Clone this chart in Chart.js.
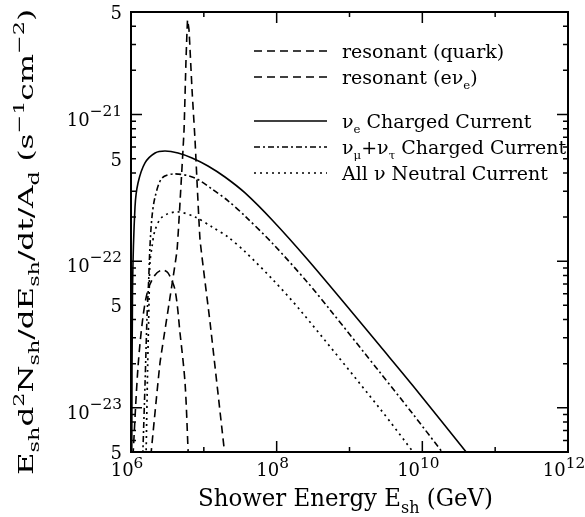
<!DOCTYPE html>
<html>
<head>
<meta charset="utf-8">
<script src="https://cdn.jsdelivr.net/npm/chart.js@4.4.1/dist/chart.umd.min.js"></script>
<style>
  html, body { margin: 0; padding: 0; background: #fff; }
</style>
</head>
<body>
<canvas id="showerChart" width="585" height="517"></canvas>
<script>
// shower energy (GeV) and rate E dN/dE (s^-1 cm^-2)
const ccElecE    = [1.025e6, 1.049e6, 1.135e6, 1.248e6, 1.557e6, 2.14e6, 2.93e6, 4.42e6, 6.89e6, 1.14e7, 1.95e7, 3.68e7, 8.93e7, 2.62e8, 1.02e9, 2.63e9, 7.48e9, 4.54e10];
const ccElecRate = [4.8e-24, 6.37e-23, 2.34e-22, 3.41e-22, 4.68e-22, 5.47e-22, 5.64e-22, 5.47e-22, 5.06e-22, 4.46e-22, 3.75e-22, 2.92e-22, 1.88e-22, 1.035e-22, 4.65e-23, 2.64e-23, 1.41e-23, 4.62e-24];

const ccMuTauE    = [1.45e6, 1.56e6, 1.66e6, 1.75e6, 1.82e6, 1.94e6, 2.14e6, 2.67e6, 4.02e6, 7.57e6, 1.30e7, 2.15e7, 3.68e7, 8.93e7, 2.62e8, 5.42e8, 2.63e9, 7.48e9, 2.06e10];
const ccMuTauRate = [4.7e-24, 1.48e-23, 4.17e-23, 7.5e-23, 1.25e-22, 2.00e-22, 2.74e-22, 3.69e-22, 3.94e-22, 3.69e-22, 3.10e-22, 2.58e-22, 2.03e-22, 1.31e-22, 7.22e-23, 4.65e-23, 1.74e-23, 9.03e-24, 4.7e-24];

const ncAllE    = [1.61e6, 1.69e6, 1.77e6, 1.82e6, 1.94e6, 2.14e6, 2.67e6, 4.29e6, 7.57e6, 1.30e7, 2.15e7, 3.68e7, 8.93e7, 2.09e8, 2.63e9, 8.22e9];
const ncAllRate = [4.7e-24, 1.82e-23, 5.44e-23, 9.73e-23, 1.25e-22, 1.63e-22, 2.00e-22, 2.17e-22, 2.00e-22, 1.71e-22, 1.46e-22, 1.16e-22, 7.45e-23, 4.65e-23, 9.84e-24, 4.7e-24];

const quarkE    = [1.065e6, 1.248e6, 1.46e6, 1.71e6, 2.14e6, 2.67e6, 3.22e6, 4.02e6, 4.71e6, 5.52e6, 6.12e6];
const quarkRate = [4.7e-24, 1.90e-23, 4.17e-23, 6.37e-23, 8.05e-23, 8.71e-23, 8.32e-23, 6.37e-23, 3.24e-23, 1.48e-23, 4.7e-24];

const glashowE    = [1.87e6, 2.50e6, 3.44e6, 4.29e6, 4.86e6, 5.35e6, 5.69e6, 5.97e6, 6.26e6, 6.89e6, 7.57e6, 8.87e6, 1.22e7, 1.95e7];
const glashowRate = [4.7e-24, 2.02e-23, 5.70e-23, 1.19e-22, 3.31e-22, 7.85e-22, 2.35e-21, 4.41e-21, 3.77e-21, 1.47e-21, 6.70e-22, 1.40e-22, 3.79e-23, 4.7e-24];

// axis ticks
const xMajorTicks = [1e6, 1e8, 1e10, 1e12];
const xMinorTicks = [1e7, 1e9, 1e11];
const xTickExp    = ['6', '8', '10', '12'];
const yDecades    = [1e-23, 1e-22, 1e-21];
const yDecadeExp  = ['\u221223', '\u221222', '\u221221'];
const yFives      = [5e-24, 5e-23, 5e-22, 5e-21];

const FONT = "'DejaVu Serif', serif";

function toPoints(xs, ys) {
    return xs.map((x, i) => ({ x: x, y: ys[i] }));
}

// text made of normal / sub / sup pieces; opt.small = size ratio, opt.fit = target width
function richWidth(ctx, parts, size, small) {
    let w = 0;
    parts.forEach(p => {
        ctx.font = (p[1] ? size * small : size) + 'px ' + FONT;
        w += ctx.measureText(p[0]).width;
    });
    return w;
}

function drawRich(ctx, parts, x, y, size, align, opt) {
    opt = opt || {};
    const small = opt.small || 0.7;
    const w = richWidth(ctx, parts, size, small);
    const sx = opt.fit ? opt.fit / w : 1;
    const tw = w * sx;
    let cx = x;
    if (align === 'right') cx = x - tw;
    if (align === 'center') cx = x - tw / 2;
    ctx.save();
    ctx.translate(cx, y);
    ctx.scale(sx, 1);
    ctx.textBaseline = 'alphabetic';
    ctx.textAlign = 'left';
    let px = 0;
    parts.forEach(p => {
        const s = p[1] ? size * small : size;
        let dy = 0;
        if (p[1] === 'sub') dy = size * (opt.subDy || 0.28);
        if (p[1] === 'sup') dy = -size * (opt.supDy || 0.42);
        ctx.font = s + 'px ' + FONT;
        ctx.fillText(p[0], px, dy);
        px += ctx.measureText(p[0]).width;
    });
    ctx.restore();
}

const legendRows = [
    { ds: 0, y: 51,  parts: [['resonant (quark)']] },
    { ds: 1, y: 77,  parts: [['resonant (e\u03bd'], ['e', 'sub'], [')']] },
    { ds: 2, y: 121, parts: [['\u03bd'], ['e', 'sub'], [' Charged Current']] },
    { ds: 3, y: 147, parts: [['\u03bd'], ['\u03bc', 'sub'], ['+\u03bd'], ['\u03c4', 'sub'], [' Charged Current']] },
    { ds: 4, y: 173, parts: [['All \u03bd Neutral Current']] }
];

const framePlugin = {
    id: 'frame',
    afterDraw(chart) {
        const ctx = chart.ctx;
        const a = chart.chartArea;
        const xs = chart.scales.x, ys = chart.scales.y;
        ctx.save();
        ctx.strokeStyle = '#000';
        ctx.fillStyle = '#000';

        // box
        ctx.lineWidth = 2;
        ctx.strokeRect(a.left, a.top, a.right - a.left, a.bottom - a.top);

        // x ticks (inside, top and bottom)
        ctx.lineWidth = 1.5;
        const xt = (vals, len) => vals.forEach(v => {
            const px = xs.getPixelForValue(v);
            ctx.beginPath();
            ctx.moveTo(px, a.bottom); ctx.lineTo(px, a.bottom - len);
            ctx.moveTo(px, a.top); ctx.lineTo(px, a.top + len);
            ctx.stroke();
        });
        xt(xMajorTicks, 11);
        xt(xMinorTicks, 5);

        // y ticks: decades long, 2..9 short
        const yt = (v, len) => {
            const py = ys.getPixelForValue(v);
            ctx.beginPath();
            ctx.moveTo(a.left, py); ctx.lineTo(a.left + len, py);
            ctx.moveTo(a.right, py); ctx.lineTo(a.right - len, py);
            ctx.stroke();
        };
        for (let d = -24; d <= -21; d++) {
            for (let m = 1; m <= 9; m++) {
                const v = m * Math.pow(10, d);
                if (v < ys.min * 0.999 || v > ys.max * 1.001) continue;
                yt(v, m === 1 ? 11 : 5);
            }
        }

        // x tick labels
        xMajorTicks.forEach((v, i) => {
            const px = xs.getPixelForValue(v) - 4;
            drawRich(ctx, [['10'], [xTickExp[i], 'sup']], px, a.bottom + 24, 18, 'center', { small: 0.85, supDy: 0.45 });
        });

        // y tick labels
        const lx = a.left - 9;
        yDecades.forEach((v, i) => {
            const py = ys.getPixelForValue(v);
            drawRich(ctx, [['10'], [yDecadeExp[i], 'sup']], lx, py + 11, 18, 'right', { small: 0.85, supDy: 0.55 });
        });
        yFives.forEach(v => {
            const py = ys.getPixelForValue(v);
            drawRich(ctx, [['5']], lx, py + 7, 18, 'right');
        });

        // x title
        drawRich(ctx, [['Shower Energy E'], ['sh', 'sub'], [' (GeV)']],
            (a.left + a.right) / 2 - 4, 506, 24, 'center', { fit: 295, small: 0.7 });

        // y title
        ctx.save();
        ctx.translate(33, 242);
        ctx.rotate(-Math.PI / 2);
        drawRich(ctx, [['E'], ['sh', 'sub'], ['d'], ['2', 'sup'], ['N'], ['sh', 'sub'], ['/dE'], ['sh', 'sub'],
            ['/dt/A'], ['d', 'sub'], [' (s'], ['\u22121', 'sup'], ['cm'], ['\u22122', 'sup'], [')']],
            0, 0, 21, 'center', { fit: 466, small: 0.72 });
        ctx.restore();

        // legend
        legendRows.forEach(row => {
            const ds = chart.data.datasets[row.ds];
            ctx.lineWidth = ds.borderWidth;
            ctx.setLineDash(ds.borderDash || []);
            ctx.beginPath();
            ctx.moveTo(254, row.y);
            ctx.lineTo(327, row.y);
            ctx.stroke();
            ctx.setLineDash([]);
            drawRich(ctx, row.parts, 342, row.y + 7, 19, 'left', { small: 0.62 });
        });
        ctx.restore();
    }
};

function initChart() {
    const ctx = document.getElementById('showerChart').getContext('2d');
    new Chart(ctx, {
        type: 'line',
        data: {
            datasets: [
                { label: 'resonant (quark)', data: toPoints(quarkE, quarkRate), borderDash: [8, 5], borderWidth: 1.6, tension: 0.3 },
                { label: 'resonant (e nu_e)', data: toPoints(glashowE, glashowRate), borderDash: [8, 5], borderWidth: 1.6, tension: 0.1 },
                { label: 'nu_e Charged Current', data: toPoints(ccElecE, ccElecRate), borderDash: [], borderWidth: 1.6, tension: 0.3 },
                { label: 'nu_mu+nu_tau Charged Current', data: toPoints(ccMuTauE, ccMuTauRate), borderDash: [6, 3, 2, 3], borderWidth: 1.6, tension: 0.3 },
                { label: 'All nu Neutral Current', data: toPoints(ncAllE, ncAllRate), borderDash: [2, 4], borderWidth: 1.7, tension: 0.3 }
            ].map(d => Object.assign(d, {
                borderColor: '#000',
                backgroundColor: '#000',
                fill: false,
                pointRadius: 0
            }))
        },
        options: {
            responsive: false,
            animation: false,
            devicePixelRatio: 1,
            layout: { padding: { left: 131, top: 12, right: 17, bottom: 65 } },
            scales: {
                x: { type: 'logarithmic', min: 1e6, max: 1e12, display: false },
                y: { type: 'logarithmic', min: 5e-24, max: 5e-21, display: false }
            },
            plugins: { legend: { display: false }, tooltip: { enabled: false } }
        },
        plugins: [framePlugin]
    });
}

window.onload = initChart;
</script>
</body>
</html>
